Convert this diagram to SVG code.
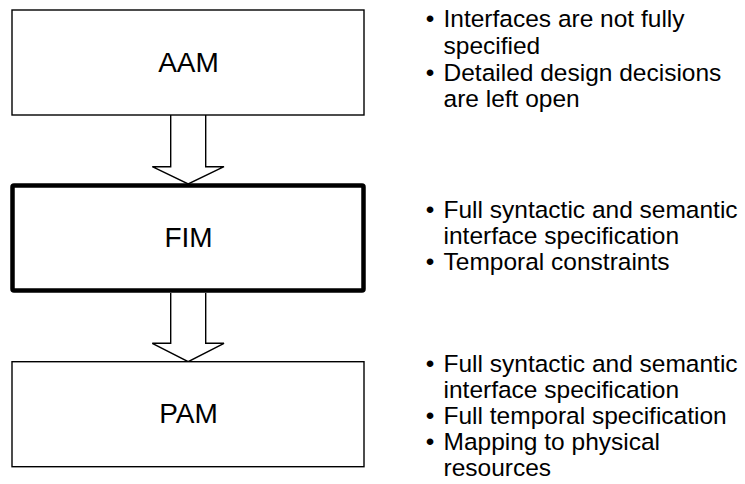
<svg xmlns="http://www.w3.org/2000/svg" width="745" height="484" viewBox="0 0 745 484">
<style>
.box{fill:#fff;stroke:#000;stroke-width:1.4}
.thick{fill:#fff;stroke:#000;stroke-width:4.5;stroke-linejoin:round}
.lbl{font-family:"Liberation Sans",Arial,sans-serif;font-size:28px;fill:#000;text-anchor:middle}
.txt{font-family:"Liberation Sans",Arial,sans-serif;font-size:24.5px;fill:#000}
.bul{font-family:"Liberation Sans",Arial,sans-serif;font-size:24.5px;fill:#000;text-anchor:middle}
.arr{fill:#fff;stroke:#000;stroke-width:1.4;stroke-linejoin:miter}
</style>
<rect width="745" height="484" fill="#fff"/>
<g id="connectors">
<path class="arr" d="M170.7,115 V166.7 H152.3 L188.2,184 L224,166.7 H205.7 V115"/>
<path class="arr" d="M170.7,293 V343.3 H152.3 L188.2,361.7 L224,343.3 H205.7 V293"/>
</g>
<g id="AAM">
<rect class="box" x="12" y="10" width="352" height="105"/>
<text class="lbl" x="188.5" y="72">AAM</text>
</g>
<g id="FIM">
<rect class="thick" x="12.5" y="185.5" width="351" height="105" rx="1.5"/>
<text class="lbl" x="188.5" y="247">FIM</text>
</g>
<g id="PAM">
<rect class="box" x="12" y="361.7" width="352" height="105"/>
<text class="lbl" x="188.5" y="423">PAM</text>
</g>
<g id="notes-AAM">
<text class="bul" x="430" y="27">•</text>
<text class="txt" x="443.5" y="27">Interfaces are not fully</text>
<text class="txt" x="443.5" y="53.5">specified</text>
<text class="bul" x="430" y="80.5">•</text>
<text class="txt" x="443.5" y="80.5">Detailed design decisions</text>
<text class="txt" x="443.5" y="107">are left open</text>
</g>
<g id="notes-FIM">
<text class="bul" x="430" y="218">•</text>
<text class="txt" x="443.5" y="218">Full syntactic and semantic</text>
<text class="txt" x="443.5" y="244">interface specification</text>
<text class="bul" x="430" y="270">•</text>
<text class="txt" x="443.5" y="270">Temporal constraints</text>
</g>
<g id="notes-PAM">
<text class="bul" x="430" y="372">•</text>
<text class="txt" x="443.5" y="372">Full syntactic and semantic</text>
<text class="txt" x="443.5" y="398">interface specification</text>
<text class="bul" x="430" y="424">•</text>
<text class="txt" x="443.5" y="424">Full temporal specification</text>
<text class="bul" x="430" y="450">•</text>
<text class="txt" x="443.5" y="450">Mapping to physical</text>
<text class="txt" x="443.5" y="476">resources</text>
</g>
</svg>
